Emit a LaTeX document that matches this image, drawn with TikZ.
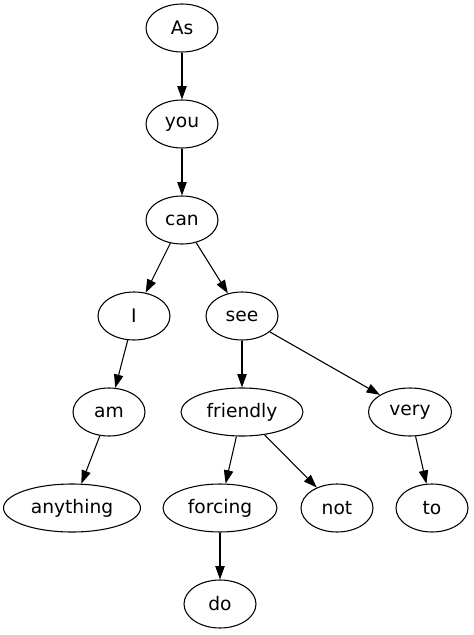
\documentclass[tikz,border=0pt]{standalone}
\usepackage{fontspec}
\setmainfont{DejaVu Sans}
\usetikzlibrary{shapes.geometric,arrows.meta}
\begin{document}
\begin{tikzpicture}[x=0.75pt,y=-0.75pt,
  wnode/.style={draw,ellipse,inner sep=0pt,minimum height=36pt,minimum width=54pt,line width=0.8pt,font=\fontsize{14}{17}\selectfont},
  edge/.style={draw,line width=0.8pt,-{Triangle[length=10pt,width=7pt]}}]
\useasboundingbox (0,0) rectangle (474,635);
\node[wnode] (As) at (182,28) {As};
\node[wnode] (you) at (182,124) {you};
\node[wnode] (can) at (182,220) {can};
\node[wnode] (I) at (134,316) {I};
\node[wnode] (see) at (242,316) {see};
\node[wnode] (am) at (109,412) {am};
\node[wnode,minimum width=91.5pt] (friendly) at (242,412) {friendly};
\node[wnode,minimum width=62.25pt] (very) at (410,412) {very};
\node[wnode,minimum width=102.75pt] (anything) at (72,508) {anything};
\node[wnode,minimum width=85.5pt] (forcing) at (220,508) {forcing};
\node[wnode] (not) at (337,508) {not};
\node[wnode] (to) at (432,508) {to};
\node[wnode] (do) at (220,604) {do};
\draw[edge] (As) -- (you);
\draw[edge] (you) -- (can);
\draw[edge] (can) -- (I);
\draw[edge] (can) -- (see);
\draw[edge] (I) -- (am);
\draw[edge] (am) -- (anything);
\draw[edge] (see) -- (friendly);
\draw[edge] (see) -- (very);
\draw[edge] (friendly) -- (forcing);
\draw[edge] (friendly) -- (not);
\draw[edge] (very) -- (to);
\draw[edge] (forcing) -- (do);
\end{tikzpicture}
\end{document}
